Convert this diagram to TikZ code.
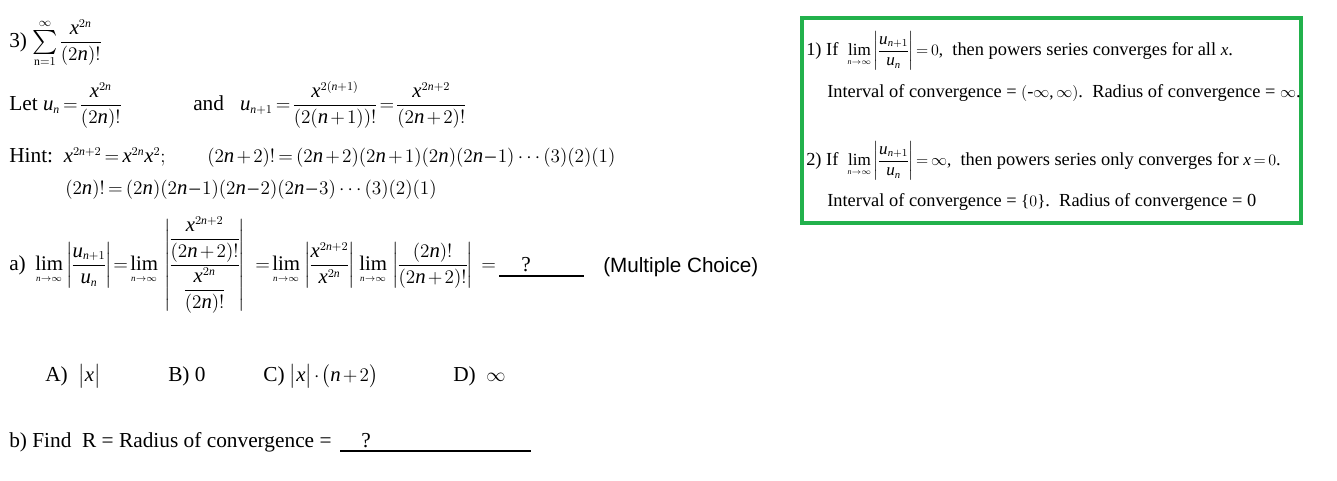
\documentclass[tikz,border=0pt]{standalone}
\usepackage{amsmath}
\usepackage{fontspec}
\setmainfont{Liberation Serif}
\newfontfamily\arialfont{Liberation Sans}
\usepackage[italic]{mathastext}
\DeclareMathSizes{16}{15.6}{8.8}{6.8}
\DeclareMathSizes{13.8}{12.8}{8}{6}
\definecolor{boxgreen}{RGB}{34,177,76}
\newcommand{\Lm}{\lim\limits_{\scriptscriptstyle n\to\infty}}
\newcommand{\Sm}{\mathop{\vcenter{\hbox{\scalebox{1.25}{$\textstyle\sum$}}}}\limits}
\begin{document}
\thickmuskip=3mu plus 1mu
\medmuskip=2mu plus 1mu
\nulldelimiterspace=0pt
\begin{tikzpicture}[x=0.75pt,y=-0.75pt,
  txt/.style={anchor=base west, inner sep=0pt, font=\fontsize{16}{19}\selectfont},
  btxt/.style={anchor=base west, inner sep=0pt, font=\fontsize{13.8}{16}\selectfont},
  sanstxt/.style={anchor=base west, inner sep=0pt, font=\arialfont\fontsize{15.5}{18}\selectfont},
  blank/.style={line width=0.8pt},
  frame/.style={draw=boxgreen, line width=2.4pt}]
\useasboundingbox[fill=white] (0,0) rectangle (1337,480);

\node[txt] (q3) at (9,47) {3)\ $\displaystyle\Sm_{\mathrm{n}=1}^{\infty}\frac{x^{2n}}{(2n)!}$};

\node[txt] (let) at (9,110.5) {Let $\displaystyle u_n=\frac{x^{2n}}{(2n)!}$};
\node[txt] (and) at (193,110.5) {and\hspace{12pt}$\displaystyle u_{n+1}=\frac{x^{2(n+1)}}{(2(n+1))!}=\frac{x^{2n+2}}{(2n+2)!}$};
\node[txt] (hint) at (9,162) {Hint:\ \ $x^{2n+2}=x^{2n}x^2;$};
\node[txt] (fact1) at (207,162) {$(2n+2)!=(2n+2)(2n+1)(2n)(2n-1)\cdots(3)(2)(1)$};
\node[txt] (fact2) at (65,194) {$(2n)!=(2n)(2n-1)(2n-2)(2n-3)\cdots(3)(2)(1)$};

\node[txt] (qa) at (9,270) {a)};
\node[txt] (lim1) at (35,270) {$\displaystyle\Lm$};
\node[txt] (ab1) at (66,270) {$\displaystyle\left|\frac{u_{n+1}}{u_n}\right|$};
\node[txt] (eq1) at (113,270) {$=$};
\node[txt] (lim2) at (130,270) {$\displaystyle\Lm$};
\node[txt] (ab2) at (164,270) {$\displaystyle\left|\frac{\dfrac{x^{2n+2}}{(2n+2)!}}{\dfrac{x^{2n}}{(2n)!}}\right|$};
\node[txt] (eq2) at (255,270) {$=$};
\node[txt] (lim3) at (272,270) {$\displaystyle\Lm$};
\node[txt] (ab3) at (304,270) {$\displaystyle\left|\frac{x^{2n+2}}{x^{2n}}\right|$};
\node[txt] (lim4) at (359,270) {$\displaystyle\Lm$};
\node[txt] (ab4) at (392,270) {$\displaystyle\left|\frac{(2n)!}{(2n+2)!}\right|$};
\node[txt] (eq3) at (481,270) {$=$};
\coordinate (ua1) at (499,276);
\coordinate (ua2) at (584,276);
\draw[blank] (ua1) -- (ua2);
\node[txt] (qaq) at (521,271) {?};
\node[sanstxt] (mc) at (603,272) {(Multiple Choice)};

\node[txt] (chA) at (45,381) {A)\ \ $\bigl|x\bigr|$};
\node[txt] (chB) at (168,381) {B) 0};
\node[txt] (chC) at (263,381) {C)\ $\bigl|x\bigr|\cdot\bigl(n+2\bigr)$};
\node[txt] (chD) at (453,381) {D)\ \ $\infty$};

\node[txt] (qb) at (9,447) {b) Find\ \ R = Radius of convergence =};
\coordinate (ub1) at (340,451);
\coordinate (ub2) at (531,451);
\draw[blank] (ub1) -- (ub2);
\node[txt] (qbq) at (361,447) {?};

\draw[frame] (802,18) rectangle (1301,223);
\node[btxt] (r1) at (806,55) {1) If\ \ $\displaystyle\Lm\left|\frac{u_{n+1}}{u_n}\right|=0,$\ \ then powers series converges for all $x$.};
\node[btxt] (r2) at (827,97) {Interval of convergence = $(\text{-}\infty,\infty)$.\ \ Radius of convergence = $\infty$.};
\node[btxt] (r3) at (806,165) {2) If\ \ $\displaystyle\Lm\left|\frac{u_{n+1}}{u_n}\right|=\infty,$\ \ then powers series only converges for $x=0$.};
\node[btxt] (r4) at (827,206) {Interval of convergence = $\{0\}$.\ \ Radius of convergence = 0};
\end{tikzpicture}
\end{document}
